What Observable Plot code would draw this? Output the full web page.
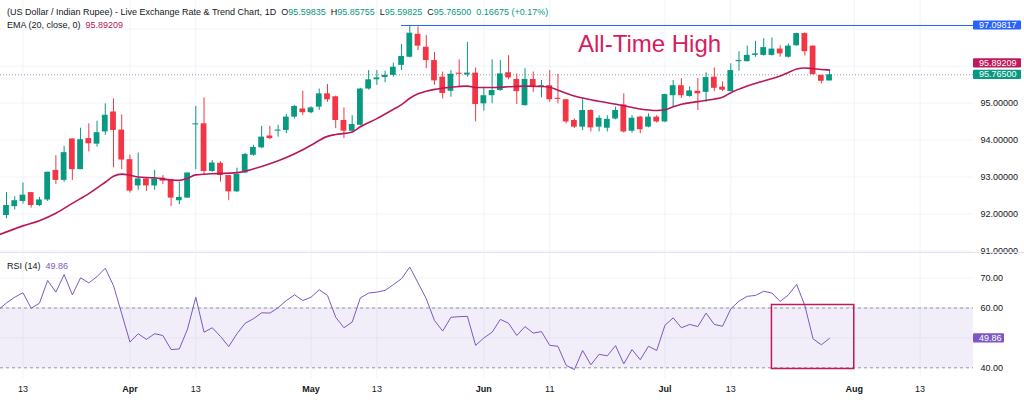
<!DOCTYPE html>
<html><head><meta charset="utf-8">
<script src="https://cdn.jsdelivr.net/npm/d3@7"></script>
<script src="https://cdn.jsdelivr.net/npm/@observablehq/plot@0.6"></script>
<style>
html,body{margin:0;padding:0;background:#fff;}
#wrap{position:relative;width:1024px;height:404px;overflow:hidden;font-family:"Liberation Sans",Arial,sans-serif;}
#wrap svg{position:absolute;left:0;}
.ov{position:absolute;white-space:nowrap;color:#131722;font-size:9px;line-height:11px;}
.ov .g{color:#089981;}
.ov .e{color:#b8185a;}
.ov .r{color:#7E57C2;}
.sep{position:absolute;left:0;width:1024px;height:1px;background:#e0e3eb;}
</style></head><body><div id="wrap"></div>
<script>
// ---- data ----
const opens = [91.96,92.20,92.34,92.58,92.23,92.38,93.18,92.91,94.03,93.20,
 94.04,93.89,94.22,94.76,94.27,93.47,92.76,92.95,92.76,92.97,
 92.93,92.36,92.43,94.41,94.44,93.15,93.37,93.04,92.60,93.11,
 93.59,93.79,94.11,94.24,94.26,94.62,94.84,94.74,94.89,95.25,
 95.17,94.53,94.24,94.40,95.38,95.63,95.69,95.75,96.02,96.24,
 96.86,96.51,96.15,95.70,95.32,95.81,95.76,95.81,94.98,95.20,
 95.34,95.82,95.64,94.93,95.64,95.43,95.47,95.13,95.09,94.53,
 94.35,94.80,94.35,94.32,94.57,94.95,94.24,94.62,94.35,94.62,
 94.49,95.20,95.47,95.18,95.32,95.29,95.70,95.43,95.31,96.12,
 96.12,96.29,96.29,96.29,96.46,96.24,96.55,96.88,96.54,95.75,
 95.59835];
const highs = [92.58,92.47,92.84,92.58,92.45,93.13,93.58,93.83,94.03,94.32,
 94.44,94.51,94.98,95.11,94.68,93.59,93.65,92.95,93.18,93.04,
 92.93,92.86,93.11,94.91,95.14,93.45,93.41,93.04,93.24,93.64,
 93.86,94.37,94.37,94.40,94.69,94.93,95.32,94.90,95.38,95.50,
 95.19,94.87,94.66,95.40,95.88,95.88,95.86,96.08,96.59,97.09817,
 97.06,96.83,96.37,95.84,95.88,96.17,96.64,95.95,95.43,96.17,
 96.15,96.28,95.79,95.93,95.84,95.61,95.88,95.78,95.10,94.57,
 95.11,94.82,94.66,94.66,94.89,95.25,94.66,94.64,94.71,94.66,
 95.24,95.61,95.66,95.44,95.66,95.82,95.95,95.57,96.06,96.39,
 96.54,96.67,96.74,96.76,96.55,96.60,96.89,96.90,96.55,95.75,
 95.85755];
const lows = [91.87,92.11,92.27,92.16,92.20,92.34,92.80,92.86,92.91,93.20,
 93.68,93.81,94.13,93.25,93.20,92.57,92.64,92.61,92.64,92.80,
 92.20,92.25,92.43,93.20,93.04,93.13,92.86,92.36,92.58,93.09,
 93.56,93.77,94.01,94.08,94.17,94.57,94.66,94.71,94.80,95.02,
 94.31,94.04,94.21,94.38,95.35,95.48,95.55,95.70,95.88,96.22,
 96.42,95.93,95.48,95.11,95.16,95.43,95.70,94.49,94.78,94.98,
 95.32,95.63,94.96,94.92,95.29,95.14,95.02,94.98,94.44,94.31,
 94.26,94.22,94.22,94.22,94.55,94.19,94.19,94.17,94.33,94.46,
 94.47,94.89,95.13,95.16,94.80,95.02,95.31,95.31,95.31,95.86,
 96.11,96.24,96.27,96.27,96.24,96.22,96.54,96.27,95.75,95.52,
 95.59825];
const closes = [92.23,92.36,92.51,92.23,92.38,93.13,92.91,93.66,93.20,94.01,
 93.90,94.20,94.67,94.26,93.46,92.62,92.95,92.76,92.95,92.89,
 92.43,92.45,93.11,94.44,93.15,93.38,93.04,92.60,93.07,93.61,
 93.80,94.08,94.04,94.27,94.62,94.91,94.74,94.87,95.25,95.09,
 94.53,94.24,94.42,95.38,95.63,95.68,95.75,95.97,96.26,96.89,
 96.54,96.15,95.60,95.26,95.78,95.78,95.81,94.96,95.20,95.34,
 95.79,95.68,95.31,95.64,95.44,95.47,95.09,95.10,94.49,94.35,
 94.80,94.33,94.59,94.56,94.80,94.22,94.59,94.28,94.62,94.49,
 95.23,95.47,95.20,95.33,95.25,95.69,95.40,95.35,95.88,96.15,
 96.29,96.33,96.50,96.46,96.33,96.54,96.88,96.39,95.77,95.59,
 95.765];
// EMA(20) read at a subset of bars
const emaBars = [-1,2,4,6,8,10,12,13,14,15,16,18,20,21,22,23,25,28,30,32,34,36,37,39,40,42,43,45,47,48,49,50,51,52,54,56,57,59,61,63,65,66,67,69,71,73,75,77,79,80,81,82,84,86,87,88,90,92,94,95,96,97,98,99,100];
const emaValues = [91.43,91.68,91.82,92.02,92.29,92.55,92.86,93.02,93.08,93.05,93.00,92.98,92.92,92.91,92.97,93.06,93.09,93.12,93.22,93.36,93.53,93.74,93.86,94.10,94.15,94.22,94.36,94.58,94.83,94.96,95.13,95.25,95.32,95.37,95.43,95.46,95.42,95.42,95.44,95.46,95.45,95.43,95.35,95.19,95.09,95.01,94.93,94.84,94.80,94.82,94.90,94.97,95.04,95.11,95.16,95.28,95.46,95.60,95.73,95.83,95.92,95.95,95.93,95.91,95.89209];
// RSI(14), first value belongs to bar -1
const rsiValues = [59.4,
 61.7,63.6,65.1,59.9,61.6,69.2,65.3,71.2,64.4,70.1,
 68.4,70.5,73.3,67.5,58.1,48.6,51.4,49.5,51.4,50.8,
 46.1,46.3,53.0,63.6,51.9,53.4,50.5,47.1,51.4,54.9,
 56.4,58.4,58.3,60.1,62.5,64.4,62.5,63.6,66.1,64.2,
 56.9,53.4,55.3,63.4,65.0,65.3,65.9,67.8,69.8,73.7,
 68.4,63.1,55.8,52.3,56.9,57.1,57.2,47.5,50.0,51.9,
 56.2,54.9,50.8,53.8,51.6,52.1,47.5,47.2,40.8,39.4,
 45.8,41.0,44.5,44.0,47.4,41.3,46.1,42.7,47.2,45.8,
 54.2,56.7,53.4,54.5,53.8,58.3,54.5,53.9,59.7,62.3,
 63.9,64.2,65.6,65.0,62.2,64.4,67.9,60.8,49.7,47.7,
 49.86];
const rsiFirstBar = -1;
// axes / annotations
const xTickBars = [2,15,23,37,45,58,66,80,88,103,111];
const xTickLabels = ["13","Apr","13","May","13","Jun","11","Jul","13","Aug","13"];
const priceTicks = [91,92,93,94,95];
const priceGrid = [91,92,93,94,95,96,97];
const rsiTicks = [40,60,70];
const rsiGrid = [40,50,60,70];
const rsiBand = [40,60];
const athValue = 97.09817, athStartBar = 48;
const boxBars = [93,103], boxRsi = [39.6,61];
const titleText = "(US Dollar / Indian Rupee) - Live Exchange Rate & Trend Chart, 1D";
const changeText = "0.16675 (+0.17%)";
const annotationText = "All-Time High";

// ---- styles ----
const GREEN="#089981", RED="#F23645", EMA="#b8185a", RSI="#7E57C2", GRID="#f0f3fa", BLUE="#2962FF";
const W=1024, MR=51;
const xDomain=[-0.729,117.49];
const font='"Liberation Sans", Arial, sans-serif';

const candles = opens.map((o,i)=>({i,o,h:highs[i],l:lows[i],c:closes[i]}));
const up = candles.filter(d=>d.c>=d.o), dn = candles.filter(d=>d.c<d.o);
const emaPts = emaBars.map((b,k)=>({i:b,v:emaValues[k]}));
const rsiPts = rsiValues.map((v,k)=>({i:k+rsiFirstBar,v}));
const ticks = xTickBars.map((b,k)=>({b,label:xTickLabels[k]}));
const last = candles[candles.length-1];
const minH = 0.027;
const bodyMarks = (data,col)=>[
  Plot.ruleX(data,{x:"i",y1:"l",y2:"h",stroke:col,strokeWidth:1}),
  Plot.rect(data,{x1:d=>d.i-0.35,x2:d=>d.i+0.35,y1:d=>Math.min(d.o,d.c),
    y2:d=>Math.max(d.o,d.c,Math.min(d.o,d.c)+minH),fill:col})
];

const wrap = document.getElementById("wrap");

const pricePlot = Plot.plot({
  width:W, height:253, marginTop:0, marginBottom:0, marginLeft:0, marginRight:MR,
  x:{domain:xDomain, axis:null},
  y:{domain:[90.933,97.774], axis:null},
  style:{color:"#131722", fontSize:"9px", fontFamily:font, background:"transparent", overflow:"visible"},
  marks:[
    Plot.ruleY(priceGrid,{stroke:GRID}),
    Plot.ruleX(xTickBars,{stroke:GRID}),
    Plot.ruleY([last.c],{stroke:"#9598a1",strokeDasharray:"1,2"}),
    Plot.ruleY([athValue],{x1:()=>athStartBar,x2:()=>xDomain[1],stroke:BLUE,strokeWidth:1}),
    ...bodyMarks(up,GREEN),
    ...bodyMarks(dn,RED),
    Plot.line(emaPts,{x:"i",y:"v",stroke:EMA,strokeWidth:1.6,curve:"monotone-x",clip:true}),
    Plot.axisY(priceTicks,{anchor:"right",label:null,tickSize:0,tickPadding:7,tickFormat:d=>d.toFixed(5)})
  ]
});
pricePlot.style.top="0px";
wrap.appendChild(pricePlot);

const rsiPlot = Plot.plot({
  width:W, height:151, marginTop:0, marginBottom:26, marginLeft:0, marginRight:MR,
  x:{domain:xDomain, axis:null},
  y:{domain:[36.42,78.23], axis:null},
  style:{color:"#131722", fontSize:"9px", fontFamily:font, background:"transparent", overflow:"visible"},
  marks:[
    Plot.ruleX(xTickBars,{stroke:GRID}),
    Plot.ruleY(rsiGrid,{stroke:GRID}),
    Plot.rect([rsiBand],{x1:()=>xDomain[0],x2:()=>xDomain[1],y1:d=>d[0],y2:d=>d[1],fill:RSI,fillOpacity:0.1}),
    Plot.ruleY(rsiBand,{stroke:"#9598a1",strokeDasharray:"3,3"}),
    Plot.line(rsiPts,{x:"i",y:"v",stroke:RSI,strokeWidth:1,clip:true}),
    Plot.rect([0],{x1:()=>boxBars[0],x2:()=>boxBars[1],y1:()=>boxRsi[0],y2:()=>boxRsi[1],fill:"none",stroke:"#c2185b",strokeWidth:1.5}),
    Plot.axisY(rsiTicks,{anchor:"right",label:null,tickSize:0,tickPadding:7,tickFormat:d=>d.toFixed(2)}),
    Plot.text(ticks.filter(t=>/^\d/.test(t.label)),{x:"b",text:"label",frameAnchor:"bottom",dy:13.7}),
    Plot.text(ticks.filter(t=>!/^\d/.test(t.label)),{x:"b",text:"label",frameAnchor:"bottom",dy:13.7,fontWeight:"bold"})
  ]
});
rsiPlot.style.top="253px";
wrap.appendChild(rsiPlot);

// value boxes on the right axis, positioned with the plots' own y scales
function addBox(svg, yPix, text, fill, w){
  const g = d3.select(svg).append("g").attr("text-anchor","start");
  const x0 = W-MR;
  g.append("rect").attr("x",x0).attr("y",yPix-4.6).attr("width",w).attr("height",9.2).attr("rx",1).attr("fill",fill);
  g.append("text").attr("x",x0+6).attr("y",yPix).attr("dy","0.35em").attr("fill","#fff")
   .attr("text-anchor","start").attr("font-size",9).attr("font-family",font).text(text);
}
const yP = pricePlot.scale("y"), yR = rsiPlot.scale("y");
const yClose = yP.apply(last.c);
let yEma = yP.apply(emaValues[emaValues.length-1]);
if (yEma > yClose - 11.5) yEma = yClose - 11.5; // avoid overlap like the original
addBox(pricePlot, yP.apply(athValue), athValue.toFixed(5), BLUE, 48);
addBox(pricePlot, yEma, emaValues[emaValues.length-1].toFixed(5), "#c0185a", 48);
addBox(pricePlot, yClose, last.c.toFixed(5), GREEN, 48);
addBox(rsiPlot, yR.apply(rsiValues[rsiValues.length-1]), rsiValues[rsiValues.length-1].toFixed(2), RSI, 31);

// overlays (legend lines, annotation)
function ov(html, left, top, extra){
  const d=document.createElement("div"); d.className="ov"; d.style.left=left+"px"; d.style.top=top+"px";
  if(extra) Object.assign(d.style, extra);
  d.innerHTML=html; wrap.appendChild(d); return d;
}
const f5=v=>v.toFixed(5);
ov(`${titleText.replace("&","&amp;")}<span style="margin-left:5px">O</span><span class="g">${f5(last.o)}</span><span style="margin-left:5px">H</span><span class="g">${f5(last.h)}</span><span style="margin-left:5px">L</span><span class="g">${f5(last.l)}</span><span style="margin-left:5px">C</span><span class="g">${f5(last.c)}</span><span class="g" style="margin-left:5px">${changeText}</span>`, 7, 7.3);
ov(`EMA (20, close, 0)<span class="e" style="margin-left:5px">${f5(emaValues[emaValues.length-1])}</span>`, 7, 19.6);
ov(`RSI (14)<span class="r" style="margin-left:5px">${rsiValues[rsiValues.length-1].toFixed(2)}</span>`, 7, 260.6);
ov(annotationText, 578, 32, {fontSize:"24px", lineHeight:"24px", color:"#d81b60"});
const s1=document.createElement("div"); s1.className="sep"; s1.style.top="252px"; wrap.appendChild(s1);
</script>
</body></html>
